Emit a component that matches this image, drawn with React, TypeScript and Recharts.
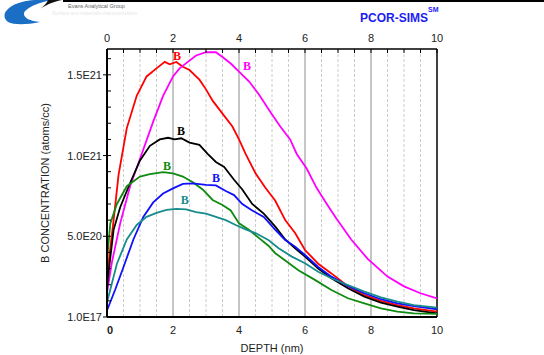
import { LineChart, Line, XAxis, YAxis, ReferenceLine, ReferenceDot } from "recharts"

// depth in nm, concentration in units of 1E20 atoms/cc
const red: [number, number][] = [
  [0, 2.5], [0.2, 6.0], [0.35, 8.8], [0.6, 11.7], [0.9, 13.7], [1.2, 14.9], [1.5, 15.4],
  [1.75, 15.8], [1.9, 15.65], [2.1, 15.8], [2.3, 15.5], [2.5, 15.3], [2.8, 14.7], [3.0, 14.1],
  [3.2, 13.4], [3.5, 12.6], [3.8, 11.8], [4.0, 11.0], [4.2, 10.1], [4.5, 8.9], [4.8, 8.0],
  [5.1, 7.2], [5.4, 6.0], [5.7, 5.2], [6.0, 4.15], [6.4, 3.3], [6.8, 2.7], [7.3, 1.9],
  [7.8, 1.36], [8.3, 1.0], [8.8, 0.74], [9.3, 0.54], [10, 0.33],
]

const magenta: [number, number][] = [
  [0, 1.5], [0.15, 3.4], [0.4, 5.8], [0.7, 8.1], [1.0, 9.8], [1.4, 12.1], [1.7, 13.7],
  [2.0, 14.9], [2.2, 15.4], [2.45, 15.8], [2.7, 16.2], [3.0, 16.4], [3.3, 16.4], [3.5, 16.1],
  [3.75, 15.7], [4.0, 15.2], [4.3, 14.6], [4.6, 13.8], [4.95, 12.7], [5.25, 11.8], [5.55, 11.0],
  [5.75, 10.1], [6.05, 9.2], [6.35, 8.0], [6.66, 7.0], [6.95, 6.1], [7.4, 4.8], [7.9, 3.6],
  [8.5, 2.5], [9.0, 1.9], [9.5, 1.47], [10, 1.16],
]

const black: [number, number][] = [
  [0, 1.8], [0.05, 2.8], [0.2, 5.4], [0.4, 6.8], [0.7, 8.3], [1.0, 9.7], [1.3, 10.6],
  [1.6, 11.0], [1.85, 11.1], [2.05, 11.0], [2.25, 11.07], [2.5, 10.8], [2.8, 10.66], [3.05, 10.1],
  [3.3, 9.6], [3.55, 9.3], [3.85, 8.5], [4.1, 7.9], [4.4, 7.0], [4.75, 6.4], [5.1, 5.6],
  [5.4, 4.8], [5.7, 4.26], [6.0, 3.74], [6.4, 3.0], [6.8, 2.4], [7.3, 1.78], [7.8, 1.26],
  [8.3, 0.89], [8.8, 0.64], [9.3, 0.43], [10, 0.23],
]

const green: [number, number][] = [
  [0, 3.5], [0.1, 5.8], [0.3, 7.0], [0.6, 8.1], [1.0, 8.7], [1.3, 8.85], [1.7, 8.97],
  [2.0, 8.9], [2.3, 8.7], [2.6, 8.35], [2.9, 7.9], [3.2, 7.25], [3.5, 6.94], [3.75, 6.6],
  [4.0, 5.8], [4.3, 5.4], [4.6, 4.9], [4.9, 4.4], [5.1, 3.95], [5.4, 3.5], [5.8, 2.9],
  [6.3, 2.3], [6.8, 1.67], [7.3, 1.16], [7.8, 0.85], [8.3, 0.54], [8.8, 0.33], [9.3, 0.23],
  [10, 0.19],
]

const blue: [number, number][] = [
  [0, 0.4], [0.25, 1.7], [0.5, 3.1], [0.8, 4.8], [1.1, 6.2], [1.4, 7.1], [1.7, 7.65],
  [2.0, 7.97], [2.3, 8.24], [2.6, 8.28], [3.0, 8.18], [3.3, 8.15], [3.6, 7.8], [3.85, 7.55],
  [4.1, 7.0], [4.4, 6.6], [4.75, 6.2], [5.1, 5.4], [5.4, 4.77], [5.7, 4.36], [6.0, 3.84],
  [6.4, 3.1], [6.8, 2.5], [7.3, 1.92], [7.8, 1.47], [8.3, 1.1], [8.8, 0.85], [9.3, 0.68],
  [10, 0.48],
]

const teal: [number, number][] = [
  [0, 0.9], [0.05, 1.3], [0.3, 3.3], [0.6, 4.8], [0.9, 5.7], [1.2, 6.2], [1.5, 6.45],
  [1.8, 6.63], [2.1, 6.7], [2.4, 6.67], [2.7, 6.5], [3.0, 6.4], [3.3, 6.2], [3.6, 6.0],
  [3.9, 5.7], [4.2, 5.43], [4.5, 5.2], [4.9, 4.75], [5.2, 4.26], [5.6, 3.74], [6.0, 3.33],
  [6.4, 2.8], [6.8, 2.4], [7.3, 1.98], [7.8, 1.57], [8.3, 1.22], [8.8, 0.95], [9.3, 0.74],
  [10, 0.58],
]

const series = [
  { name: "red", color: "#ff0000", points: red, labelAt: [2.12, 16.17] },
  { name: "magenta", color: "#ff00ff", points: magenta, labelAt: [4.24, 15.55] },
  { name: "black", color: "#000000", points: black, labelAt: [2.24, 11.52] },
  { name: "green", color: "#108a10", points: green, labelAt: [1.82, 9.36] },
  { name: "blue", color: "#1010ff", points: blue, labelAt: [3.3, 8.6] },
  { name: "teal", color: "#188c8c", points: teal, labelAt: [2.36, 7.25] },
]

const depthLabels = [0, 2, 4, 6, 8, 10]
const majorGrid = [2, 4, 6, 8]
const minorGrid = [0.5, 1, 1.5, 2.5, 3, 3.5, 4.5, 5, 5.5, 6.5, 7, 7.5, 8.5, 9, 9.5]
const concTicks = [0, 1, 2, 3, 4, 5, 6, 7, 8, 9, 10, 11, 12, 13, 14, 15, 16]
const concLabelValues = [0, 5, 10, 15]
const concLabelText = ["1.0E17", "5.0E20", "1.0E21", "1.5E21"]

const topTicks = [...depthLabels, ...minorGrid].sort((a, b) => a - b)
const font = "'Liberation Sans', Arial, sans-serif"

function TopTick(props: any) {
  const { x, y, payload } = props
  const v = payload.value
  return (
    <g>
      <line x1={x} x2={x} y1={y + 8} y2={y + 12} stroke="#000" />
      {depthLabels.includes(v) && (
        <text x={x} y={y + 1} textAnchor="middle" fontSize={11} fill="#222" fontFamily={font}>
          {v}
        </text>
      )}
    </g>
  )
}

function BottomTick(props: any) {
  const { x, y, payload } = props
  const v = payload.value
  return (
    <text
      x={v === 0 ? x + 3 : x}
      y={y + 9}
      textAnchor="middle"
      fontSize={11}
      fill="#222"
      fontWeight={v === 0 ? "bold" : "normal"}
      fontFamily={font}
    >
      {v}
    </text>
  )
}

function LeftTick(props: any) {
  const { x, y, payload } = props
  const i = concLabelValues.indexOf(payload.value)
  return (
    <g>
      <line x1={x + 5} x2={x + 9} y1={y} y2={y} stroke="#000" />
      {i >= 0 && (
        <>
          <line x1={x + 1} x2={x + 5} y1={y} y2={y} stroke="#000" />
          <text x={x} y={y + 4} textAnchor="end" fontSize={11} fill="#222" fontFamily={font}>
            {concLabelText[i]}
          </text>
        </>
      )}
    </g>
  )
}

function Header() {
  return (
    <svg width={544} height={40} style={{ position: "absolute", left: 0, top: 0, pointerEvents: "none" }}>
      <rect x={63} y={0} width={481} height={2} fill="#000" />
      <path d="M 8 22 C 0 16, 6 6, 22 2 C 30 0, 42 -1, 52 0 C 36 3, 24 9, 24 14 C 24 18, 30 21, 40 22 C 26 25, 14 25, 8 22 Z" fill="#1a6fc4" />
      <path d="M 40 9 C 46 5, 52 2, 62 0 L 48 0 C 47 3, 44 6, 40 9 Z" fill="#111" />
      <text x={68} y={8} fontSize={5.5} fill="#666" fontFamily={font}>Evans Analytical Group</text>
      <text x={52} y={15} fontSize={5} fill="#e8e8e8" fontFamily={font}>Surface and materials characterization</text>
      <text x={360} y={22} fontSize={12} fontWeight="bold" fill="#1c1cf5" fontFamily={font}>PCOR-SIMS</text>
      <text x={428} y={12} fontSize={7} fontWeight="bold" fill="#1c1cf5" fontFamily={font}>SM</text>
    </svg>
  )
}

export default function App() {
  return (
    <div style={{ position: "absolute", left: 0, top: 0, width: 544, height: 355, background: "#fff" }}>
      <LineChart width={544} height={355} margin={{ top: 19, right: 107, bottom: 0, left: 0 }}>
        <XAxis
          xAxisId="t"
          orientation="top"
          type="number"
          dataKey="x"
          domain={[0, 10]}
          ticks={topTicks}
          interval={0}
          height={30}
          tickSize={4}
          tickMargin={4}
          tickLine={false}
          tick={<TopTick />}
          axisLine={{ stroke: "#000", strokeWidth: 1.5 }}
        />
        <XAxis
          xAxisId="b"
          orientation="bottom"
          type="number"
          dataKey="x"
          domain={[0, 10]}
          ticks={depthLabels}
          interval={0}
          height={38}
          tickSize={4}
          tickMargin={4}
          tickLine={false}
          tick={<BottomTick />}
          axisLine={{ stroke: "#000", strokeWidth: 2 }}
          label={{ value: "DEPTH (nm)", position: "insideBottom", offset: 3, fontSize: 11, fill: "#222", fontFamily: font }}
        />
        <YAxis
          yAxisId="c"
          type="number"
          domain={[0, 16.6]}
          allowDataOverflow
          ticks={concTicks}
          interval={0}
          width={107}
          tickSize={4}
          tickMargin={1}
          tickLine={false}
          tick={<LeftTick />}
          axisLine={{ stroke: "#000", strokeWidth: 2 }}
          label={{
            value: "B CONCENTRATION (atoms/cc)",
            angle: -90,
            position: "center",
            dx: -8,
            fontSize: 11,
            fill: "#222",
            fontFamily: font,
          }}
        />
        {minorGrid.map((g) => (
          <ReferenceLine key={"m" + g} xAxisId="b" yAxisId="c" x={g} stroke="#cccccc" strokeDasharray="3 2" />
        ))}
        {majorGrid.map((g) => (
          <ReferenceLine key={"M" + g} xAxisId="b" yAxisId="c" x={g} stroke="#8c8c8c" />
        ))}
        <ReferenceLine xAxisId="b" yAxisId="c" x={10} stroke="#000" strokeWidth={1.5} />
        {/* the top depth axis needs a series bound to it to draw its ticks */}
        <Line
          xAxisId="t"
          yAxisId="c"
          data={red.map(([x, y]) => ({ x, y }))}
          dataKey="y"
          stroke="none"
          dot={false}
          activeDot={false}
          isAnimationActive={false}
        />
        {series.map((s) => (
          <Line
            key={s.name}
            xAxisId="b"
            yAxisId="c"
            data={s.points.map(([x, y]) => ({ x, y }))}
            dataKey="y"
            type="linear"
            stroke={s.color}
            strokeWidth={1.8}
            dot={false}
            isAnimationActive={false}
          />
        ))}
        {series.map((s) => (
          <ReferenceDot
            key={"l" + s.name}
            xAxisId="b"
            yAxisId="c"
            x={s.labelAt[0]}
            y={s.labelAt[1]}
            r={1}
            fill="none"
            stroke="none"
            label={{
              value: "B",
              position: "center",
              fill: s.color,
              fontSize: 12,
              fontWeight: "bold",
              fontFamily: "'Liberation Serif', 'Times New Roman', serif",
            }}
          />
        ))}
      </LineChart>
      <Header />
    </div>
  )
}
